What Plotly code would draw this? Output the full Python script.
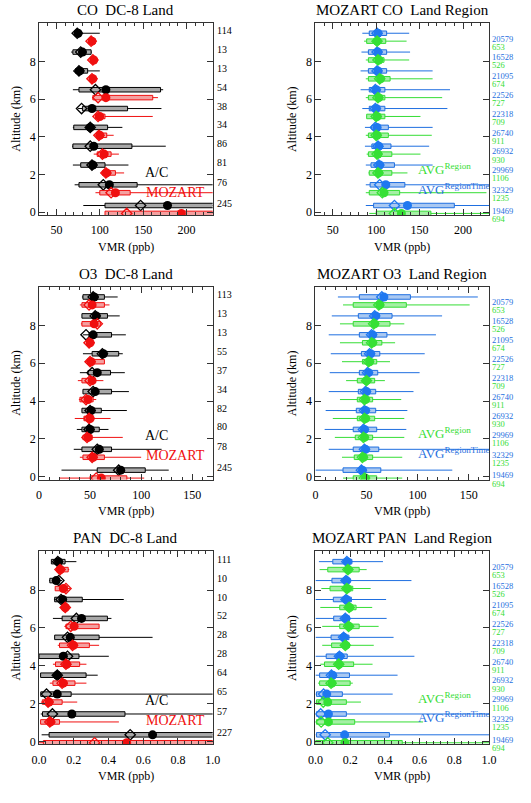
import plotly.graph_objects as go

W, H = 531, 803
FONT = "Liberation Serif"

# altitude bins (km), bottom -> top
ALT = [0.35, 1.45, 2.5, 3.5, 4.5, 5.5, 6.5, 7.5, 8.5, 9.5]

# ---------------- CO (ppb) ----------------
CO_AC_MIN = [81, 71, 69, 68, 69, 75, 69, 71, 67, 70]
CO_AC_Q1 = [106, 76, 78, 69, 70, 80, 76, 72, 69, 71]
CO_AC_Q3 = [260, 143, 106, 137, 109, 132, 170, 86, 90, 78]
CO_AC_MAX = [300, 260, 133, 176, 126, 171, 173, 100, 91, 100]
CO_AC_MEAN = [178, 111, 92, 93, 89, 91, 107, 77, 80, 75]
CO_AC_MED = [147, 104, 91, 89, 89, 79, 95, 76, 78, 74]

CO_MOD_MIN = [106, 95, 102, 93, 95, 94, 91, 88, 89, 87]
CO_MOD_Q1 = [106, 100, 103, 97, 97, 95, 92, 89, 90, 88]
CO_MOD_Q3 = [260, 135, 118, 113, 108, 106, 161, 95, 95, 95]
CO_MOD_MAX = [300, 250, 128, 122, 116, 161, 167, 96, 97, 96]
CO_MOD_MEAN = [194, 118, 108, 105, 100, 100, 107, 92, 93, 91]
CO_MOD_MED = [131, 113, 107, 103, 99, 98, 98, 91, 92, 90]

CO_RT_MIN = [88, 88, 88, 87, 87, 84, 82, 82, 83, 84]
CO_RT_Q1 = [97, 93, 94, 95, 95, 92, 92, 91, 91, 92]
CO_RT_Q3 = [190, 133, 121, 117, 114, 110, 110, 112, 112, 112]
CO_RT_MAX = [300, 260, 165, 161, 165, 182, 185, 165, 139, 138]
CO_RT_MEAN = [136, 111, 104, 103, 101, 100, 100, 102, 102, 102]
CO_RT_MED = [121, 104, 103, 102, 99, 99, 99, 101, 101, 101]

CO_RG_MIN = [92, 88, 91, 89, 88, 89, 88, 88, 88, 86]
CO_RG_Q1 = [100, 92, 92, 91, 91, 89, 91, 91, 91, 89]
CO_RG_Q3 = [163, 127, 118, 118, 114, 110, 110, 116, 109, 111]
CO_RG_MAX = [300, 227, 136, 151, 164, 151, 176, 165, 138, 135]
CO_RG_MEAN = [129, 109, 103, 102, 101, 101, 103, 105, 103, 101]
CO_RG_MED = [121, 107, 102, 101, 100, 100, 102, 104, 102, 101]

# ---------------- O3 (ppb) ----------------
O3_AC_MIN = [22, 34, 37, 42, 43, 40, 43, 43, 42, 42]
O3_AC_Q1 = [57, 42, 42, 42, 43, 48, 52, 49, 42, 43]
O3_AC_Q3 = [104, 71, 59, 61, 71, 70, 78, 71, 67, 64]
O3_AC_MAX = [127, 120, 68, 86, 88, 84, 82, 85, 79, 77]
O3_AC_MEAN = [80, 59, 50, 51, 55, 57, 63, 53, 56, 54]
O3_AC_MED = [78, 57, 49, 50, 53, 52, 62, 46, 55, 53]

O3_MOD_MIN = [20, 40, 42, 35, 39, 38, 45, 47, 41, 40]
O3_MOD_Q1 = [50, 43, 43, 44, 40, 42, 47, 47, 42, 42]
O3_MOD_Q3 = [86, 64, 52, 52, 53, 55, 64, 52, 60, 64]
O3_MOD_MAX = [103, 100, 82, 70, 56, 63, 64, 53, 61, 69]
O3_MOD_MEAN = [61, 53, 48, 50, 48, 52, 51, 50, 54, 52]
O3_MOD_MED = [56, 52, 47, 49, 46, 50, 50, 49, 57, 49]

O3_RT_MIN = [0, 13, 9, 10, 13, 14, 15, 13, 16, 22]
O3_RT_Q1 = [27, 37, 37, 40, 42, 43, 45, 43, 42, 43]
O3_RT_Q3 = [64, 62, 60, 59, 59, 61, 63, 70, 75, 93]
O3_RT_MAX = [134, 200, 89, 90, 96, 102, 107, 118, 124, 159]
O3_RT_MEAN = [46, 49, 48, 49, 50, 52, 54, 56, 59, 67]
O3_RT_MED = [45, 48, 47, 48, 49, 51, 53, 55, 58, 65]

O3_RG_MIN = [27, 26, 19, 17, 24, 30, 26, 24, 24, 27]
O3_RG_Q1 = [37, 38, 39, 41, 41, 41, 46, 46, 37, 37]
O3_RG_Q3 = [60, 56, 56, 58, 56, 58, 60, 65, 73, 89]
O3_RG_MAX = [85, 85, 87, 87, 84, 68, 73, 78, 87, 151]
O3_RG_MEAN = [49, 47, 48, 49, 49, 50, 53, 56, 58, 63]
O3_RG_MED = [48, 46, 47, 48, 48, 50, 52, 55, 57, 62]

# ---------------- PAN (ppb) ----------------
PAN_AC_MIN = [0.015, 0.010, 0.010, 0.006, 0.0, 0.090, 0.080, 0.086, 0.058, 0.071]
PAN_AC_Q1 = [0.058, 0.020, 0.010, 0.009, 0.0, 0.090, 0.133, 0.090, 0.062, 0.071]
PAN_AC_Q3 = [1.2, 0.495, 0.185, 0.271, 0.230, 0.346, 0.394, 0.249, 0.118, 0.150]
PAN_AC_MAX = [1.5, 1.5, 1.5, 0.338, 0.402, 0.654, 0.417, 0.488, 0.133, 0.215]
PAN_AC_MEAN = [0.654, 0.189, 0.105, 0.105, 0.140, 0.180, 0.245, 0.136, 0.099, 0.112]
PAN_AC_MED = [0.525, 0.077, 0.043, 0.105, 0.164, 0.164, 0.215, 0.127, 0.114, 0.108]

PAN_MOD_MIN = [0.0, 0.006, 0.011, 0.062, 0.080, 0.108, 0.146, 0.136, 0.093, 0.100]
PAN_MOD_Q1 = [0.025, 0.009, 0.019, 0.080, 0.095, 0.118, 0.155, 0.140, 0.093, 0.103]
PAN_MOD_Q3 = [1.2, 0.118, 0.133, 0.207, 0.234, 0.290, 0.346, 0.160, 0.165, 0.168]
PAN_MOD_MAX = [1.5, 0.460, 0.220, 0.273, 0.273, 0.346, 0.346, 0.165, 0.178, 0.174]
PAN_MOD_MEAN = [0.505, 0.067, 0.058, 0.140, 0.159, 0.198, 0.202, 0.151, 0.140, 0.123]
PAN_MOD_MED = [0.320, 0.062, 0.052, 0.133, 0.155, 0.193, 0.183, 0.151, 0.155, 0.121]

PAN_RT_MIN = [0.0, 0.0, 0.0, 0.0, 0.0, 0.0, 0.0, 0.0, 0.0, 0.020]
PAN_RT_Q1 = [0.006, 0.006, 0.006, 0.024, 0.062, 0.090, 0.105, 0.103, 0.095, 0.100]
PAN_RT_Q3 = [0.426, 0.178, 0.155, 0.196, 0.183, 0.193, 0.196, 0.207, 0.200, 0.210]
PAN_RT_MAX = [1.5, 1.5, 0.445, 0.473, 0.570, 0.450, 0.410, 0.407, 0.553, 0.389]
PAN_RT_MEAN = [0.168, 0.075, 0.065, 0.099, 0.140, 0.164, 0.174, 0.178, 0.178, 0.183]
PAN_RT_MED = [0.056, 0.030, 0.047, 0.092, 0.138, 0.162, 0.172, 0.176, 0.176, 0.181]

PAN_RG_MIN = [0.0, 0.0, 0.0, 0.015, 0.028, 0.039, 0.039, 0.028, 0.034, 0.024]
PAN_RG_Q1 = [0.0, 0.006, 0.006, 0.024, 0.052, 0.093, 0.140, 0.140, 0.084, 0.071]
PAN_RG_Q3 = [0.500, 0.226, 0.178, 0.200, 0.220, 0.196, 0.252, 0.234, 0.215, 0.252]
PAN_RG_MAX = [1.5, 0.620, 0.262, 0.215, 0.329, 0.336, 0.364, 0.327, 0.318, 0.295]
PAN_RG_MEAN = [0.170, 0.075, 0.071, 0.095, 0.136, 0.174, 0.193, 0.196, 0.183, 0.189]
PAN_RG_MED = [0.071, 0.033, 0.045, 0.090, 0.134, 0.172, 0.191, 0.194, 0.181, 0.187]

# sample counts (bottom -> top)
N_CO_AC = [245, 76, 81, 86, 34, 38, 54, 13, 13, 114]
N_O3_AC = [245, 78, 80, 82, 34, 37, 55, 13, 13, 113]
N_PAN_AC = [227, 57, 65, 64, 28, 28, 52, 10, 10, 111]
N_RT = [19469, 32329, 29969, 26932, 26740, 22318, 22526, 21095, 16528, 20579]
N_RG = [694, 1235, 1106, 930, 911, 709, 727, 674, 526, 653]

TITLES = ["CO  DC-8 Land", "MOZART CO  Land Region",
          "O3  DC-8 Land", "MOZART O3  Land Region",
          "PAN  DC-8 Land", "MOZART PAN  Land Region"]
X_TITLE = "VMR (ppb)"
Y_TITLE = "Altitude (km)"

BLACK = dict(line="#000000", fill="#a8a8a8", mark="#000000")
RED = dict(line="#f01010", fill="#f4a0a0", mark="#f01010")
BLUE = dict(line="#1f6fe0", fill="#a9c8f2", mark="#1f78f0")
GREEN = dict(line="#35dd35", fill="#a4f0a4", mark="#35e035")

SERIES = {
    1: [((CO_AC_MIN, CO_AC_Q1, CO_AC_Q3, CO_AC_MAX, CO_AC_MEAN, CO_AC_MED), BLACK, 0.0),
        ((CO_MOD_MIN, CO_MOD_Q1, CO_MOD_Q3, CO_MOD_MAX, CO_MOD_MEAN, CO_MOD_MED), RED, -0.42)],
    2: [((CO_RT_MIN, CO_RT_Q1, CO_RT_Q3, CO_RT_MAX, CO_RT_MEAN, CO_RT_MED), BLUE, 0.0),
        ((CO_RG_MIN, CO_RG_Q1, CO_RG_Q3, CO_RG_MAX, CO_RG_MEAN, CO_RG_MED), GREEN, -0.42)],
    3: [((O3_AC_MIN, O3_AC_Q1, O3_AC_Q3, O3_AC_MAX, O3_AC_MEAN, O3_AC_MED), BLACK, 0.0),
        ((O3_MOD_MIN, O3_MOD_Q1, O3_MOD_Q3, O3_MOD_MAX, O3_MOD_MEAN, O3_MOD_MED), RED, -0.42)],
    4: [((O3_RT_MIN, O3_RT_Q1, O3_RT_Q3, O3_RT_MAX, O3_RT_MEAN, O3_RT_MED), BLUE, 0.0),
        ((O3_RG_MIN, O3_RG_Q1, O3_RG_Q3, O3_RG_MAX, O3_RG_MEAN, O3_RG_MED), GREEN, -0.42)],
    5: [((PAN_AC_MIN, PAN_AC_Q1, PAN_AC_Q3, PAN_AC_MAX, PAN_AC_MEAN, PAN_AC_MED), BLACK, 0.0),
        ((PAN_MOD_MIN, PAN_MOD_Q1, PAN_MOD_Q3, PAN_MOD_MAX, PAN_MOD_MEAN, PAN_MOD_MED), RED, -0.42)],
    6: [((PAN_RT_MIN, PAN_RT_Q1, PAN_RT_Q3, PAN_RT_MAX, PAN_RT_MEAN, PAN_RT_MED), BLUE, 0.0),
        ((PAN_RG_MIN, PAN_RG_Q1, PAN_RG_Q3, PAN_RG_MAX, PAN_RG_MEAN, PAN_RG_MED), GREEN, -0.42)],
}

XRANGES = {1: [30, 230], 2: [30, 230], 3: [0, 170], 4: [0, 170], 5: [0, 1], 6: [0, 1]}
XDTICK = {1: 50, 2: 50, 3: 50, 4: 50, 5: 0.2, 6: 0.2}
XMINOR = {1: 10, 2: 10, 3: 10, 4: 10, 5: 0.04, 6: 0.04}
YRANGE = [-0.15, 10.05]

COLS = [(32, 211), (317, 496)]
ROWS = [(23, 216), (288, 482), (554, 748)]


def px(x):
    return x / W


def py(y):
    return 1 - y / H


def ydom(v):
    return (v - YRANGE[0]) / (YRANGE[1] - YRANGE[0])


fig = go.Figure()
HB = 0.12  # box half height (km)

for p in range(1, 7):
    r, c = (p - 1) // 2, (p - 1) % 2
    xa = "x" if p == 1 else f"x{p}"
    ya = "y" if p == 1 else f"y{p}"
    for (mn, q1, q3, mx, mean, med), col, off in SERIES[p]:
        alts = [a + off for a in ALT]
        wx, wy, bx, by = [], [], [], []
        for i, a in enumerate(alts):
            wx += [mn[i], mx[i], None]
            wy += [a, a, None]
            bx += [q1[i], q3[i], q3[i], q1[i], q1[i], None]
            by += [a - HB, a - HB, a + HB, a + HB, a - HB, None]
        fig.add_trace(go.Scatter(x=wx, y=wy, mode="lines", xaxis=xa, yaxis=ya,
                                 line=dict(color=col["line"], width=1), showlegend=False,
                                 hoverinfo="skip"))
        fig.add_trace(go.Scatter(x=bx, y=by, mode="lines", fill="toself", xaxis=xa, yaxis=ya,
                                 fillcolor=col["fill"], line=dict(color=col["line"], width=1),
                                 showlegend=False, hoverinfo="skip"))
        fig.add_trace(go.Scatter(x=med, y=alts, mode="markers", xaxis=xa, yaxis=ya,
                                 marker=dict(symbol="diamond-open", size=8, color=col["mark"],
                                             line=dict(width=1.3, color=col["mark"])),
                                 showlegend=False))
        fig.add_trace(go.Scatter(x=mean, y=alts, mode="markers", xaxis=xa, yaxis=ya,
                                 marker=dict(symbol="circle", size=9, color=col["mark"]),
                                 showlegend=False))

    x0, x1 = COLS[c]
    y0, y1 = ROWS[r]
    axcommon = dict(showline=True, linecolor="#333", linewidth=1, mirror="ticks",
                    ticks="inside", tickcolor="#333", zeroline=False, showgrid=False,
                    tickfont=dict(family=FONT, size=12, color="black"))
    fig.layout[("xaxis" if p == 1 else f"xaxis{p}")] = dict(
        domain=[px(x0), px(x1)], anchor=ya, range=XRANGES[p], tick0=0, dtick=XDTICK[p],
        ticklen=6, ticklabelstandoff=4,
        tickformat=".1f" if p >= 5 else "d",
        minor=dict(dtick=XMINOR[p], ticks="inside", ticklen=3, tickcolor="#333", showgrid=False),
        **axcommon)
    fig.layout[("yaxis" if p == 1 else f"yaxis{p}")] = dict(
        domain=[py(y1), py(y0)], anchor=xa, range=YRANGE, tickvals=[0, 2, 4, 6, 8],
        ticklen=6, **axcommon)

    # titles
    fig.add_annotation(text=TITLES[p - 1], xref="paper", yref="paper",
                       x=px((x0 + x1) / 2), y=py(y0 - 13), showarrow=False,
                       xanchor="center", yanchor="middle",
                       font=dict(family=FONT, size=15, color="black"))
    fig.add_annotation(text=X_TITLE, xref="paper", yref="paper",
                       x=px((x0 + x1) / 2), y=py(y1 + 32), showarrow=False,
                       xanchor="center", yanchor="middle",
                       font=dict(family=FONT, size=12, color="black"))
    fig.add_annotation(text=Y_TITLE, xref="paper", yref="paper", textangle=-90,
                       x=px(x0 - 24), y=py((y0 + y1) / 2), showarrow=False,
                       xanchor="center", yanchor="middle",
                       font=dict(family=FONT, size=12, color="black"))

    # counts
    if c == 0:
        counts = [N_CO_AC, N_O3_AC, N_PAN_AC][r]
        for a, n in zip(ALT, counts):
            fig.add_annotation(text=str(n), xref=f"{xa} domain", yref=f"{ya} domain",
                               x=1, y=ydom(a + 0.13),
                               xanchor="left", yanchor="middle", xshift=2, showarrow=False,
                               font=dict(family=FONT, size=10, color="black"))
        fig.add_annotation(text="A/C", xref="paper", yref="paper", x=px(139), y=py(y0 + 150),
                           xanchor="left", yanchor="middle", showarrow=False,
                           font=dict(family=FONT, size=14, color="black"))
        fig.add_annotation(text="MOZART", xref="paper", yref="paper", x=px(140), y=py(y0 + 170),
                           xanchor="left", yanchor="middle", showarrow=False,
                           font=dict(family=FONT, size=14, color=RED["line"]))
    else:
        for a, n in zip(ALT, N_RT):
            fig.add_annotation(text=str(n), xref=f"{xa} domain", yref=f"{ya} domain",
                               x=1, y=ydom(a - 0.28),
                               xanchor="left", yanchor="middle", xshift=1, showarrow=False,
                               font=dict(family=FONT, size=8.5, color=BLUE["line"]))
        for a, n in zip(ALT, N_RG):
            fig.add_annotation(text=str(n), xref=f"{xa} domain", yref=f"{ya} domain",
                               x=1, y=ydom(a - 0.71),
                               xanchor="left", yanchor="middle", xshift=1, showarrow=False,
                               font=dict(family=FONT, size=8.5, color=GREEN["line"]))
        fig.add_annotation(text="AVG<sup>Region</sup>", xref="paper", yref="paper",
                           x=px(421), y=py(y0 + 147), xanchor="left", yanchor="middle",
                           showarrow=False, font=dict(family=FONT, size=13, color=GREEN["line"]))
        fig.add_annotation(text="AVG<sup>RegionTime</sup>", xref="paper", yref="paper",
                           x=px(421), y=py(y0 + 167), xanchor="left", yanchor="middle",
                           showarrow=False, font=dict(family=FONT, size=13, color=BLUE["line"]))

fig.update_layout(width=W, height=H, margin=dict(l=0, r=0, t=0, b=0),
                  paper_bgcolor="white", plot_bgcolor="white", showlegend=False)
fig.write_html("out.html")
